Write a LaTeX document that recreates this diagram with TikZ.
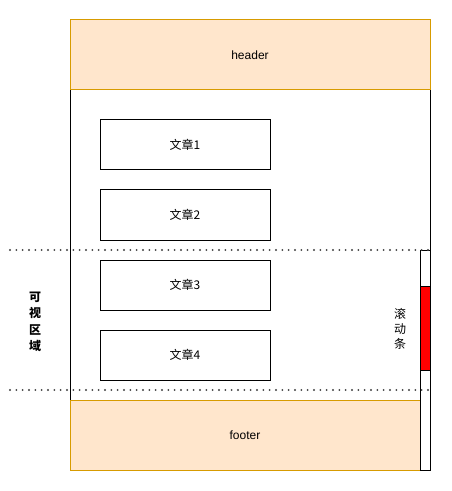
\documentclass[tikz,border=0pt]{standalone}
\usepackage{fontspec}
\setmainfont{Liberation Sans}
\newfontfamily\cjk{Noto Sans CJK SC}
\definecolor{hdrfill}{HTML}{FFE6CC}
\definecolor{hdrline}{HTML}{D79B00}
\begin{document}
\begin{tikzpicture}[x=0.75pt,y=-0.75pt,
  every node/.style={font=\fontsize{9pt}{11pt}\selectfont, inner sep=0pt, outer sep=0pt},
  band/.style={draw=hdrline, fill=hdrfill, line width=0.75pt, minimum height=52.5pt},
  article/.style={draw=black, fill=white, line width=0.75pt, minimum width=127.5pt, minimum height=37.5pt, font=\cjk\fontsize{9pt}{11pt}\selectfont},
  dotline/.style={draw=black!75, line width=1.6pt, line cap=round, dash pattern=on 0pt off 4.75pt},
  vlabel/.style={align=center, font=\cjk\fontsize{9pt}{12.4pt}\selectfont}
]
\useasboundingbox (0,0) rectangle (451,491);
% frame
\node[draw=black, line width=0.75pt, minimum width=270pt, minimum height=337.5pt] (frame) at (250,245) {};
% header / footer
\node[band, minimum width=270pt] (header) at (250,55) {header};
\node[band, minimum width=262.5pt] (footer) at (245,435) {footer};
% articles
\node[article] (a1) at (185,145) {文章1};
\node[article] (a2) at (185,215) {文章2};
\node[article] (a3) at (185,285) {文章3};
\node[article] (a4) at (185,355) {文章4};
% scrollbar
\node[draw=black, fill=white, line width=0.75pt, minimum width=7.5pt, minimum height=165pt] (track) at (425,360) {};
\node[draw=black, fill=red, line width=0.75pt, minimum width=7.5pt, minimum height=63pt] (thumb) at (425,328) {};
% dotted viewport lines
\coordinate (t1) at (10,250);
\coordinate (t2) at (430,250);
\coordinate (b1) at (10,390);
\coordinate (b2) at (430,390);
\draw[dotline] (t1) -- (t2);
\draw[dotline] (b1) -- (b2);
% labels
\node[vlabel, font=\cjk\bfseries\fontsize{9pt}{12.4pt}\selectfont] (view) at (35,322) {可\\视\\区\\域};
\node[vlabel, font=\cjk\fontsize{9pt}{11pt}\selectfont] (scroll) at (400,329) {滚\\动\\条};
\end{tikzpicture}
\end{document}
